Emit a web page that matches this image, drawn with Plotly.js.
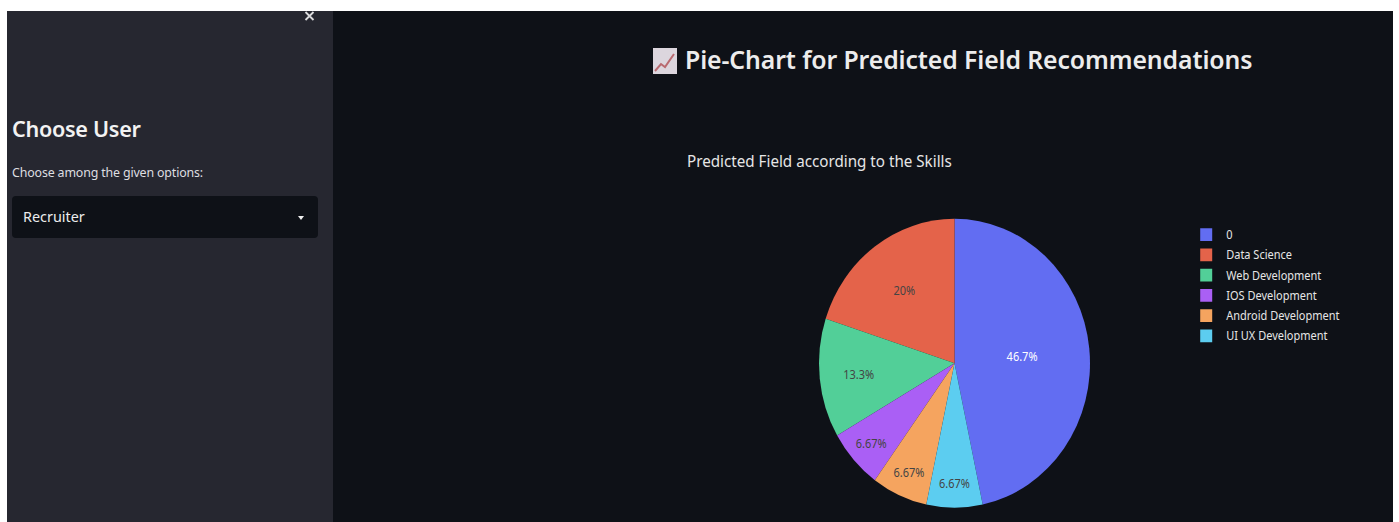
<!DOCTYPE html>
<html>
<head>
<meta charset="utf-8">
<script src="https://cdn.plot.ly/plotly-3.0.1.min.js"></script>
<style>
  html, body { margin: 0; padding: 0; background: #fff; }
  #page { position: relative; width: 1399px; height: 522px; overflow: hidden; background: #fff; font-family: "Noto Sans", "Open Sans", sans-serif; }
  #main { position: absolute; left: 333px; top: 11px; width: 1060px; height: 511px; background: #0e1117; }
  #side { position: absolute; left: 7px; top: 11px; width: 326px; height: 511px; background: #262730; overflow: hidden; }
  /* The chart panel is drawn slightly taller than wide */
  #chart { position: absolute; left: 333px; top: 11px; width: 1060px; height: 480px; transform: scaleY(1.066); transform-origin: 0 0; }
  .t { position: absolute; white-space: nowrap; }
  #close { position: absolute; left: 297px; top: 0; width: 11px; height: 10px; }
  #choose { left: 5px; top: 104px; font-size: 21.6px; line-height: 28px; font-weight: 600; color: #f2f2f2; letter-spacing: -0.3px; }
  #among { left: 5px; top: 154px; font-size: 12.4px; line-height: 16px; color: #dedee0; letter-spacing: -0.15px; }
  #select { position: absolute; left: 5px; top: 185px; width: 306px; height: 42px; background: #0e1117; border-radius: 4px; }
  #role { left: 11px; top: 12px; font-size: 14.4px; line-height: 18px; color: #ececec; }
  #caret { position: absolute; left: 286px; top: 20px; width: 0; height: 0; border-left: 3px solid transparent; border-right: 3px solid transparent; border-top: 4px solid #f0f0f0; }
  #head { left: 685px; top: 42px; font-size: 24.8px; line-height: 34px; font-weight: 600; color: #ececec; letter-spacing: -0.1px; }
  #icon { position: absolute; left: 653px; top: 48px; width: 24px; height: 26px; }
</style>
</head>
<body>
<div id="page">
  <div id="main"></div>
  <div id="chart"></div>
  <div id="side">
    <svg id="close" viewBox="0 0 11 10">
      <path d="M1.5 1 L9.5 9 M9.5 1 L1.5 9" fill="none" stroke="#dcdcde" stroke-width="1.8"/>
    </svg>
    <div class="t" id="choose">Choose User</div>
    <div class="t" id="among">Choose among the given options:</div>
    <div id="select">
      <div class="t" id="role">Recruiter</div>
      <div id="caret"></div>
    </div>
  </div>
  <svg id="icon" viewBox="0 0 24 26">
    <rect x="0" y="0" width="24" height="26" fill="#dcd6de"/>
    <polyline points="2,23 8,16 12,19 21,6" fill="none" stroke="#b96a70" stroke-width="2"/>
  </svg>
  <div class="t" id="head">Pie-Chart for Predicted Field Recommendations</div>
</div>
<script>
// Field counts behind the recommendations pie
const fields = ["0", "Data Science", "Web Development", "IOS Development", "Android Development", "UI UX Development"];
const counts = [7, 3, 2, 1, 1, 1];
const sliceColors = ["#626df2", "#e4634a", "#52cf98", "#aa5ff5", "#f5a45f", "#5ccdf0"];
const chartTitle = "Predicted Field according to the Skills";

Plotly.newPlot("chart", [{
  type: "pie",
  labels: fields,
  values: counts,
  sort: false,
  direction: "counterclockwise",
  rotation: 0,
  textinfo: "percent",
  textposition: "inside",
  insidetextorientation: "horizontal",
  textfont: { size: 11 },
  marker: { colors: sliceColors },
  domain: { x: [0, 1], y: [0, 1] }
}], {
  width: 1060,
  height: 480,
  paper_bgcolor: "rgba(0,0,0,0)",
  plot_bgcolor: "rgba(0,0,0,0)",
  font: { family: "Noto Sans, Open Sans, sans-serif", color: "#f0f0f0", size: 11 },
  title: { text: chartTitle, x: 0.334, xanchor: "left", y: 0.717, yref: "container", font: { size: 15.2, color: "#e6e6e6" } },
  margin: { l: 486, r: 303, t: 190, b: 8.6, pad: 0 },
  showlegend: true,
  legend: { x: 1.355, y: 0.9815, xanchor: "left", yanchor: "top", font: { size: 11, color: "#e6e6e6" }, bgcolor: "rgba(0,0,0,0)" }
}, { displayModeBar: false, staticPlot: true });
</script>
</body>
</html>
